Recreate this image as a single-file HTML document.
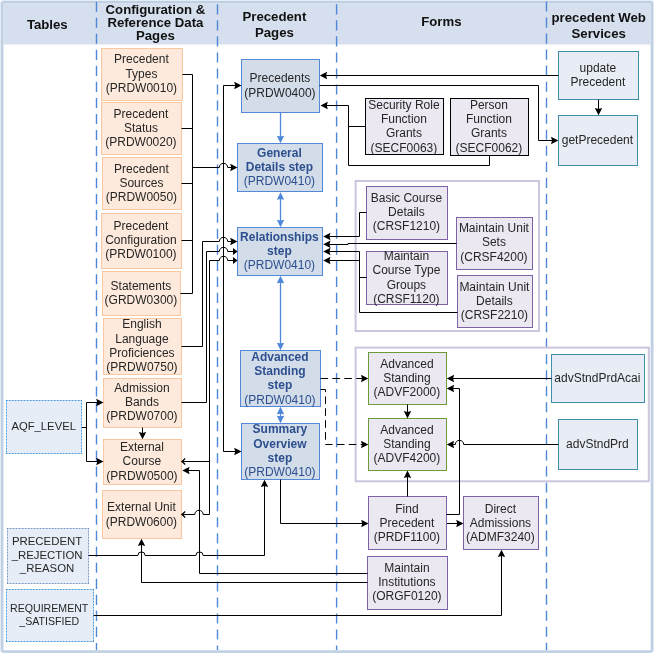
<!DOCTYPE html>
<html lang="en"><head><meta charset="utf-8"><title>Precedent pages relationships</title>
<style>
html,body{margin:0;padding:0;background:#fff;}
body{width:654px;height:653px;overflow:hidden;}
svg{display:block;will-change:transform;}
text{font-family:"Liberation Sans",Arial,sans-serif;text-anchor:middle;fill:#262626;}
.t{font-size:12px;}
.h{font-size:13.2px;font-weight:bold;fill:#111;}
.s{font-size:11px;}
.s1{font-size:11.25px;}
.s2{font-size:11.4px;}
.s3{font-size:10.6px;}
.b{font-size:12px;font-weight:bold;fill:#2d4f8e;}
.bc{font-size:12px;fill:#2d4f8e;}
</style></head><body>
<svg width="654" height="653" viewBox="0 0 654 653">
<rect x="0.5" y="0.5" width="653" height="652" rx="2.5" fill="none" stroke="#e6ecf4" stroke-width="1"/>
<rect x="2.2" y="2.2" width="649.7" height="649.3" rx="1.5" fill="#fff" stroke="#bfcfe4" stroke-width="2.5"/>
<rect x="3.4" y="3.4" width="647.2" height="41.1" fill="#d5dfed"/>
<line x1="96.5" y1="1.7" x2="96.5" y2="650" stroke="#4f87d9" stroke-width="1.4" stroke-dasharray="10.1 5.93"/>
<line x1="217.5" y1="4.3" x2="217.5" y2="650" stroke="#4f87d9" stroke-width="1.4" stroke-dasharray="10.1 5.93"/>
<line x1="336.6" y1="4.3" x2="336.6" y2="650" stroke="#4f87d9" stroke-width="1.4" stroke-dasharray="10.1 5.93"/>
<line x1="546.5" y1="1.5" x2="546.5" y2="650" stroke="#4f87d9" stroke-width="1.4" stroke-dasharray="10.1 5.93"/>
<text class="h" x="47.3" y="28.7">Tables</text>
<text class="h" x="155.4" y="14.0">Configuration &amp;</text>
<text class="h" x="155.4" y="27.2">Reference Data</text>
<text class="h" x="155.4" y="40.4">Pages</text>
<text class="h" x="274.4" y="21.4">Precedent</text>
<text class="h" x="274.4" y="37.2">Pages</text>
<text class="h" x="441.4" y="25.6">Forms</text>
<text class="h" x="598.7" y="21.8">precedent Web</text>
<text class="h" x="598.7" y="37.6">Services</text>
<rect x="355.6" y="181" width="183.4" height="150" fill="none" stroke="#cdc5de" stroke-width="2" />
<rect x="355.6" y="347.6" width="293.2" height="133.7" fill="none" stroke="#cdc5de" stroke-width="2" />
<rect x="101.5" y="48.5" width="81.0" height="52.0" fill="#fdeadc" stroke="#f9c7a0" stroke-width="1" />
<text class="t" x="141.4" y="63.3">Precedent</text>
<text class="t" x="141.4" y="77.6">Types</text>
<text class="t" x="141.4" y="91.9">(PRDW0010)</text>
<rect x="101.5" y="102.5" width="80.0" height="52.0" fill="#fdeadc" stroke="#f9c7a0" stroke-width="1" />
<text class="t" x="140.9" y="117.8">Precedent</text>
<text class="t" x="140.9" y="132.1">Status</text>
<text class="t" x="140.9" y="146.4">(PRDW0020)</text>
<rect x="102.5" y="157.5" width="79.0" height="52.0" fill="#fdeadc" stroke="#f9c7a0" stroke-width="1" />
<text class="t" x="141.4" y="172.7">Precedent</text>
<text class="t" x="141.4" y="187.0">Sources</text>
<text class="t" x="141.4" y="201.3">(PRDW0050)</text>
<rect x="101.5" y="213.5" width="80.0" height="55.0" fill="#fdeadc" stroke="#f9c7a0" stroke-width="1" />
<text class="t" x="140.9" y="229.7">Precedent</text>
<text class="t" x="140.9" y="244.0">Configuration</text>
<text class="t" x="140.9" y="258.3">(PRDW0100)</text>
<rect x="102.5" y="271.5" width="78.0" height="44.0" fill="#fdeadc" stroke="#f9c7a0" stroke-width="1" />
<text class="t" x="140.9" y="289.5">Statements</text>
<text class="t" x="140.9" y="303.8">(GRDW0300)</text>
<rect x="103.5" y="318.5" width="78.0" height="56.0" fill="#fdeadc" stroke="#f9c7a0" stroke-width="1" />
<text class="t" x="141.9" y="328.2">English</text>
<text class="t" x="141.9" y="342.5">Language</text>
<text class="t" x="141.9" y="356.8">Proficiences</text>
<text class="t" x="141.9" y="371.1">(PRDW0750)</text>
<rect x="103.5" y="378.5" width="78.0" height="49.0" fill="#fdeadc" stroke="#f9c7a0" stroke-width="1" />
<text class="t" x="141.9" y="391.8">Admission</text>
<text class="t" x="141.9" y="406.1">Bands</text>
<text class="t" x="141.9" y="420.4">(PRDW0700)</text>
<rect x="103.5" y="439.5" width="78.0" height="45.0" fill="#fdeadc" stroke="#f9c7a0" stroke-width="1" />
<text class="t" x="141.9" y="450.9">External</text>
<text class="t" x="141.9" y="465.2">Course</text>
<text class="t" x="141.9" y="479.5">(PRDW0500)</text>
<rect x="102.5" y="490.5" width="79.0" height="48.0" fill="#fdeadc" stroke="#f9c7a0" stroke-width="1" />
<text class="t" x="141.4" y="511.2">External Unit</text>
<text class="t" x="141.4" y="525.5">(PRDW0600)</text>
<rect x="241.5" y="59.5" width="78.0" height="53.0" fill="#d3ddea" stroke="#5389d6" stroke-width="1" />
<text class="t" x="279.9" y="82.0">Precedents</text>
<text class="t" x="279.9" y="96.5">(PRDW0400)</text>
<rect x="237.5" y="143.5" width="85.0" height="48.0" fill="#d3ddea" stroke="#5389d6" stroke-width="1" />
<text class="b" x="279.4" y="156.8">General</text>
<text class="b" x="279.4" y="171.1">Details step</text>
<text class="bc" x="279.4" y="185.4">(PRDW0410)</text>
<rect x="237.5" y="227.5" width="85.0" height="48.0" fill="#d3ddea" stroke="#5389d6" stroke-width="1" />
<text class="b" x="279.4" y="240.5">Relationships</text>
<text class="b" x="279.4" y="254.8">step</text>
<text class="bc" x="279.4" y="269.1">(PRDW0410)</text>
<rect x="240.5" y="350.5" width="80.0" height="56.0" fill="#d3ddea" stroke="#5389d6" stroke-width="1" />
<text class="b" x="279.9" y="360.6">Advanced</text>
<text class="b" x="279.9" y="374.9">Standing</text>
<text class="b" x="279.9" y="389.2">step</text>
<text class="bc" x="279.9" y="403.5">(PRDW0410)</text>
<rect x="241.5" y="423.5" width="78.0" height="56.0" fill="#d3ddea" stroke="#5389d6" stroke-width="1" />
<text class="b" x="279.9" y="433.3">Summary</text>
<text class="b" x="279.9" y="447.6">Overview</text>
<text class="b" x="279.9" y="461.9">step</text>
<text class="bc" x="279.9" y="476.2">(PRDW0410)</text>
<rect x="365.5" y="98.5" width="78.0" height="56.0" fill="#ebe8f1" stroke="#000" stroke-width="1" />
<text class="t" x="403.9" y="108.8">Security Role</text>
<text class="t" x="403.9" y="123.1">Function</text>
<text class="t" x="403.9" y="137.4">Grants</text>
<text class="t" x="403.9" y="151.7">(SECF0063)</text>
<rect x="450.5" y="98.5" width="78.0" height="57.0" fill="#ebe8f1" stroke="#000" stroke-width="1" />
<text class="t" x="488.9" y="108.8">Person</text>
<text class="t" x="488.9" y="123.1">Function</text>
<text class="t" x="488.9" y="137.4">Grants</text>
<text class="t" x="488.9" y="151.7">(SECF0062)</text>
<rect x="366.5" y="186.5" width="81.0" height="53.0" fill="#ebe8f1" stroke="#7e62a8" stroke-width="1" />
<text class="t" x="406.4" y="201.5">Basic Course</text>
<text class="t" x="406.4" y="215.8">Details</text>
<text class="t" x="406.4" y="230.1">(CRSF1210)</text>
<rect x="366.5" y="251.5" width="81.0" height="53.0" fill="#ebe8f1" stroke="#7e62a8" stroke-width="1" />
<text class="t" x="406.4" y="260.0">Maintain</text>
<text class="t" x="406.4" y="274.3">Course Type</text>
<text class="t" x="406.4" y="288.6">Groups</text>
<text class="t" x="406.4" y="302.9">(CRSF1120)</text>
<rect x="456.5" y="217.5" width="76.0" height="52.0" fill="#ebe8f1" stroke="#7e62a8" stroke-width="1" />
<text class="t" x="493.9" y="232.0">Maintain Unit</text>
<text class="t" x="493.9" y="246.3">Sets</text>
<text class="t" x="493.9" y="260.6">(CRSF4200)</text>
<rect x="457.5" y="275.5" width="75.0" height="52.0" fill="#ebe8f1" stroke="#7e62a8" stroke-width="1" />
<text class="t" x="494.4" y="290.5">Maintain Unit</text>
<text class="t" x="494.4" y="304.8">Details</text>
<text class="t" x="494.4" y="319.1">(CRSF2210)</text>
<rect x="368.5" y="352.5" width="78.0" height="52.0" fill="#ebe8f1" stroke="#6f9a3c" stroke-width="1" />
<text class="t" x="406.9" y="367.5">Advanced</text>
<text class="t" x="406.9" y="381.8">Standing</text>
<text class="t" x="406.9" y="396.1">(ADVF2000)</text>
<rect x="368.5" y="418.5" width="78.0" height="52.0" fill="#ebe8f1" stroke="#6f9a3c" stroke-width="1" />
<text class="t" x="406.9" y="433.5">Advanced</text>
<text class="t" x="406.9" y="447.8">Standing</text>
<text class="t" x="406.9" y="462.1">(ADVF4200)</text>
<rect x="368.5" y="496.5" width="78.0" height="53.0" fill="#ebe8f1" stroke="#7e62a8" stroke-width="1" />
<text class="t" x="406.9" y="512.5">Find</text>
<text class="t" x="406.9" y="526.8">Precedent</text>
<text class="t" x="406.9" y="541.1">(PRDF1100)</text>
<rect x="463.5" y="496.5" width="75.0" height="53.0" fill="#ebe8f1" stroke="#7e62a8" stroke-width="1" />
<text class="t" x="500.4" y="512.5">Direct</text>
<text class="t" x="500.4" y="526.8">Admissions</text>
<text class="t" x="500.4" y="541.1">(ADMF3240)</text>
<rect x="367.5" y="556.5" width="80.0" height="53.0" fill="#ebe8f1" stroke="#7e62a8" stroke-width="1" />
<text class="t" x="406.9" y="571.5">Maintain</text>
<text class="t" x="406.9" y="585.8">Institutions</text>
<text class="t" x="406.9" y="600.1">(ORGF0120)</text>
<rect x="558.5" y="51.5" width="80.0" height="48.0" fill="#e8edf5" stroke="#3d8fa8" stroke-width="1" />
<text class="t" x="597.9" y="71.5">update</text>
<text class="t" x="597.9" y="85.8">Precedent</text>
<rect x="558.5" y="115.5" width="79.0" height="50.0" fill="#e8edf5" stroke="#3d8fa8" stroke-width="1" />
<text class="t" x="597.4" y="144.0">getPrecedent</text>
<rect x="551.5" y="354.5" width="93.0" height="48.0" fill="#e8edf5" stroke="#3d8fa8" stroke-width="1" />
<text class="t" x="597.4" y="382.0">advStndPrdAcai</text>
<rect x="558.5" y="419.5" width="79.0" height="50.0" fill="#e8edf5" stroke="#3d8fa8" stroke-width="1" />
<text class="t" x="597.4" y="448.0">advStndPrd</text>
<rect x="6.5" y="400.5" width="75.0" height="53.0" fill="#e7edf6"/>
<line x1="6" y1="400.5" x2="82.0" y2="400.5" stroke="#1f86d6" stroke-width="1" stroke-dasharray="0.8 0.7"/>
<line x1="6" y1="453.5" x2="82.0" y2="453.5" stroke="#1f86d6" stroke-width="1" stroke-dasharray="0.8 0.7"/>
<line x1="6.5" y1="400" x2="6.5" y2="454.0" stroke="#1f86d6" stroke-width="1" stroke-dasharray="0.8 0.7"/>
<line x1="81.5" y1="400" x2="81.5" y2="454.0" stroke="#1f86d6" stroke-width="1" stroke-dasharray="0.8 0.7"/>
<text class="s1" x="43.7" y="430.4">AQF_LEVEL</text>
<rect x="7.5" y="528.5" width="81.0" height="55.0" fill="#e7edf6"/>
<line x1="7" y1="528.5" x2="89.0" y2="528.5" stroke="#5f82b8" stroke-width="1" stroke-dasharray="0.8 0.7"/>
<line x1="7" y1="583.5" x2="89.0" y2="583.5" stroke="#5f82b8" stroke-width="1" stroke-dasharray="0.8 0.7"/>
<line x1="7.5" y1="528" x2="7.5" y2="584.0" stroke="#5f82b8" stroke-width="1" stroke-dasharray="0.8 0.7"/>
<line x1="88.5" y1="528" x2="88.5" y2="584.0" stroke="#5f82b8" stroke-width="1" stroke-dasharray="0.8 0.7"/>
<text class="s2" x="47.1" y="545.1">PRECEDENT</text>
<text class="s2" x="47.1" y="558.7">_REJECTION</text>
<text class="s2" x="47.1" y="572.3">_REASON</text>
<rect x="6.5" y="589.5" width="87.0" height="52.0" fill="#e7edf6"/>
<line x1="6" y1="589.5" x2="94.0" y2="589.5" stroke="#1f86d6" stroke-width="1" stroke-dasharray="0.8 0.7"/>
<line x1="6" y1="641.5" x2="94.0" y2="641.5" stroke="#1f86d6" stroke-width="1" stroke-dasharray="0.8 0.7"/>
<line x1="6.5" y1="589" x2="6.5" y2="642.0" stroke="#1f86d6" stroke-width="1" stroke-dasharray="0.8 0.7"/>
<line x1="93.5" y1="589" x2="93.5" y2="642.0" stroke="#1f86d6" stroke-width="1" stroke-dasharray="0.8 0.7"/>
<text class="s3" x="49.2" y="611.5">REQUIREMENT</text>
<text class="s3" x="49.2" y="625.1">_SATISFIED</text>
<path d="M182.5 74.5 L192.5 74.5 L192.5 293.5 L180.5 293.5" fill="none" stroke="#000" stroke-width="1" />
<path d="M181.5 128.5 L192.5 128.5" fill="none" stroke="#000" stroke-width="1" />
<path d="M181.5 183.5 L192.5 183.5" fill="none" stroke="#000" stroke-width="1" />
<path d="M181.5 240.5 L192.5 240.5" fill="none" stroke="#000" stroke-width="1" />
<path d="M192.5 167.5 L219.3 167.5 A4.2 4.2 0 0 1 227.7 167.5 L233 167.5" fill="none" stroke="#000" stroke-width="1"/>
<polygon points="237.5,167.5 230.2,163.8 231.2,167.5 230.2,171.2" fill="#000"/>
<path d="M236 85.5 L223.5 85.5 L223.5 451.5 L236 451.5" fill="none" stroke="#000" stroke-width="1" />
<polygon points="241.5,85.5 234.2,81.8 235.2,85.5 234.2,89.2" fill="#000"/>
<polygon points="241.5,451.5 234.2,447.8 235.2,451.5 234.2,455.2" fill="#000"/>
<path d="M181.5 346.5 L202.5 346.5 L202.5 241.5 L219.3 241.5 A4.2 4.2 0 0 1 227.7 241.5 L233 241.5" fill="none" stroke="#000" stroke-width="1"/>
<polygon points="237.5,241.5 230.2,237.8 231.2,241.5 230.2,245.2" fill="#000"/>
<path d="M181.5 402.5 L206.5 402.5 L206.5 251.5 L219.3 251.5 A4.2 4.2 0 0 1 227.7 251.5 L235 251.5" fill="none" stroke="#000" stroke-width="1"/>
<polygon points="237.5,251.5 233.0,248.1 233.0,251.5 233.0,254.9" fill="#000"/>
<path d="M235 260.5 L227.7 260.5 A4.2 4.2 0 0 0 219.3 260.5 L209.5 260.5 L209.5 514.5 L203.2 514.5 A4.2 4.2 0 0 0 194.8 514.5 L181.5 514.5" fill="none" stroke="#000" stroke-width="1"/>
<polygon points="237.5,260.5 233.0,257.1 233.0,260.5 233.0,263.9" fill="#000"/>
<path d="M209.5 461.5 L181.5 461.5" fill="none" stroke="#000" stroke-width="1" />
<path d="M185.2 458.5 L182 461.5 L185.2 464.5" fill="none" stroke="#000" stroke-width="1.3" />
<path d="M185.2 511.5 L182 514.5 L185.2 517.5" fill="none" stroke="#000" stroke-width="1.3" />
<path d="M367.5 573.5 L199.5 573.5 L199.5 470.5 L187 470.5" fill="none" stroke="#000" stroke-width="1" />
<polygon points="182.3,470.5 189.6,466.8 188.6,470.5 189.6,474.2" fill="#000"/>
<path d="M367.5 582.5 L141.5 582.5 L141.5 543" fill="none" stroke="#000" stroke-width="1" />
<polygon points="141.5,538.7 137.8,546.0 141.5,545.0 145.2,546.0" fill="#000"/>
<path d="M88.5 555.5 L137.9 555.5 A3.6 3.6 0 0 1 145.1 555.5 L195.9 555.5 A3.6 3.6 0 0 1 203.1 555.5 L264.5 555.5 L264.5 484" fill="none" stroke="#000" stroke-width="1"/>
<polygon points="264.5,479.7 260.8,487.0 264.5,486.0 268.2,487.0" fill="#000"/>
<path d="M93.5 615.5 L501.5 615.5 L501.5 554" fill="none" stroke="#000" stroke-width="1" />
<polygon points="501.5,549.7 497.8,557.0 501.5,556.0 505.2,557.0" fill="#000"/>
<path d="M82 427.5 L86.5 427.5" fill="none" stroke="#000" stroke-width="1" />
<path d="M99 402.5 L86.5 402.5 L86.5 461.5 L99 461.5" fill="none" stroke="#000" stroke-width="1" />
<polygon points="103.5,402.5 96.2,398.8 97.2,402.5 96.2,406.2" fill="#000"/>
<polygon points="103.5,461.5 96.2,457.8 97.2,461.5 96.2,465.2" fill="#000"/>
<path d="M142.5 427.5 L142.5 435" fill="none" stroke="#000" stroke-width="1" />
<polygon points="142.5,439.3 138.8,432.0 142.5,433.0 146.2,432.0" fill="#000"/>
<path d="M280.5 479.5 L280.5 523.5 L364 523.5" fill="none" stroke="#000" stroke-width="1" />
<polygon points="368.5,523.5 361.2,519.8 362.2,523.5 361.2,527.2" fill="#000"/>
<path d="M447 523.5 L459 523.5" fill="none" stroke="#000" stroke-width="1" />
<polygon points="463.5,523.5 456.2,519.8 457.2,523.5 456.2,527.2" fill="#000"/>
<path d="M407.5 496.5 L407.5 475" fill="none" stroke="#000" stroke-width="1" />
<polygon points="407.5,470.6 403.8,477.9 407.5,476.9 411.2,477.9" fill="#000"/>
<path d="M446.5 514.5 L459.5 514.5 L459.5 388.5 L451 388.5" fill="none" stroke="#000" stroke-width="1" />
<polygon points="446.8,388.5 454.1,384.8 453.1,388.5 454.1,392.2" fill="#000"/>
<path d="M407.5 404.5 L407.5 414" fill="none" stroke="#000" stroke-width="1" />
<polygon points="407.5,418.4 403.8,411.1 407.5,412.1 411.2,411.1" fill="#000"/>
<path d="M551.5 378.5 L451 378.5" fill="none" stroke="#000" stroke-width="1" />
<polygon points="446.8,378.5 454.1,374.8 453.1,378.5 454.1,382.2" fill="#000"/>
<path d="M558.5 444.5 L463.7 444.5 A4.2 4.2 0 0 0 455.3 444.5 L451 444.5" fill="none" stroke="#000" stroke-width="1"/>
<polygon points="446.8,444.5 454.1,440.8 453.1,444.5 454.1,448.2" fill="#000"/>
<path d="M320.5 378.5 L364 378.5" fill="none" stroke="#000" stroke-width="1" stroke-dasharray="7.6 4.3" />
<polygon points="368.3,378.5 361.0,374.8 362.0,378.5 361.0,382.2" fill="#000"/>
<path d="M320.5 389.5 L325.5 389.5 L325.5 444.5 L364 444.5" fill="none" stroke="#000" stroke-width="1" stroke-dasharray="7.6 4.3" />
<polygon points="368.3,444.5 361.0,440.8 362.0,444.5 361.0,448.2" fill="#000"/>
<path d="M558.5 75.5 L324 75.5" fill="none" stroke="#000" stroke-width="1" />
<polygon points="319.8,75.5 327.1,71.8 326.1,75.5 327.1,79.2" fill="#000"/>
<path d="M319.5 85.5 L538.5 85.5 L538.5 140.5 L554 140.5" fill="none" stroke="#000" stroke-width="1" />
<polygon points="558.3,140.5 551.0,136.8 552.0,140.5 551.0,144.2" fill="#000"/>
<path d="M598.5 99.5 L598.5 111" fill="none" stroke="#000" stroke-width="1" />
<polygon points="598.5,115.3 594.8,108.0 598.5,109.0 602.2,108.0" fill="#000"/>
<path d="M365.5 126.5 L348.5 126.5" fill="none" stroke="#000" stroke-width="1" />
<path d="M325 105.5 L348.5 105.5 L348.5 165.5 L489.5 165.5 L489.5 155.5" fill="none" stroke="#000" stroke-width="1" />
<polygon points="320.5,105.5 327.8,101.8 326.8,105.5 327.8,109.2" fill="#000"/>
<path d="M366.5 212.5 L359.5 212.5 L359.5 236.5 L327 236.5" fill="none" stroke="#000" stroke-width="1" />
<polygon points="323.2,236.5 330.5,232.8 329.5,236.5 330.5,240.2" fill="#000"/>
<path d="M456.5 243.5 L348 243.5 L348 244.5 L327 244.5" fill="none" stroke="#000" stroke-width="1" />
<polygon points="323.2,244.2 330.5,240.5 329.5,244.2 330.5,247.9" fill="#000"/>
<path d="M366.5 277.5 L359.5 277.5" fill="none" stroke="#000" stroke-width="1" />
<path d="M327 251.5 L359.5 251.5 L359.5 312.5 L457.5 312.5" fill="none" stroke="#000" stroke-width="1" />
<polygon points="323.2,251.5 330.5,247.8 329.5,251.5 330.5,255.2" fill="#000"/>
<path d="M359.5 260.5 L327 260.5" fill="none" stroke="#000" stroke-width="1" />
<polygon points="323.2,260.5 330.5,256.8 329.5,260.5 330.5,264.2" fill="#000"/>
<path d="M280.5 112.5 L280.5 139.3" fill="none" stroke="#4f87d9" stroke-width="1.3" />
<polygon points="280.5,143.3 276.8,135.8 280.5,136.4 284.2,135.8" fill="#4f87d9"/>
<path d="M280.5 196.2 L280.5 223.3" fill="none" stroke="#4f87d9" stroke-width="1.3" />
<polygon points="280.5,192.2 276.8,199.7 280.5,199.1 284.2,199.7" fill="#4f87d9"/>
<polygon points="280.5,227.3 276.8,219.8 280.5,220.4 284.2,219.8" fill="#4f87d9"/>
<path d="M280.5 279.8 L280.5 346.3" fill="none" stroke="#4f87d9" stroke-width="1.3" />
<polygon points="280.5,275.8 276.8,283.3 280.5,282.7 284.2,283.3" fill="#4f87d9"/>
<polygon points="280.5,350.3 276.8,342.8 280.5,343.4 284.2,342.8" fill="#4f87d9"/>
<path d="M280.5 410.8 L280.5 419.2" fill="none" stroke="#4f87d9" stroke-width="1.3" />
<polygon points="280.5,406.8 276.8,414.3 280.5,413.7 284.2,414.3" fill="#4f87d9"/>
<polygon points="280.5,423.2 276.8,415.7 280.5,416.3 284.2,415.7" fill="#4f87d9"/>
</svg></body></html>
